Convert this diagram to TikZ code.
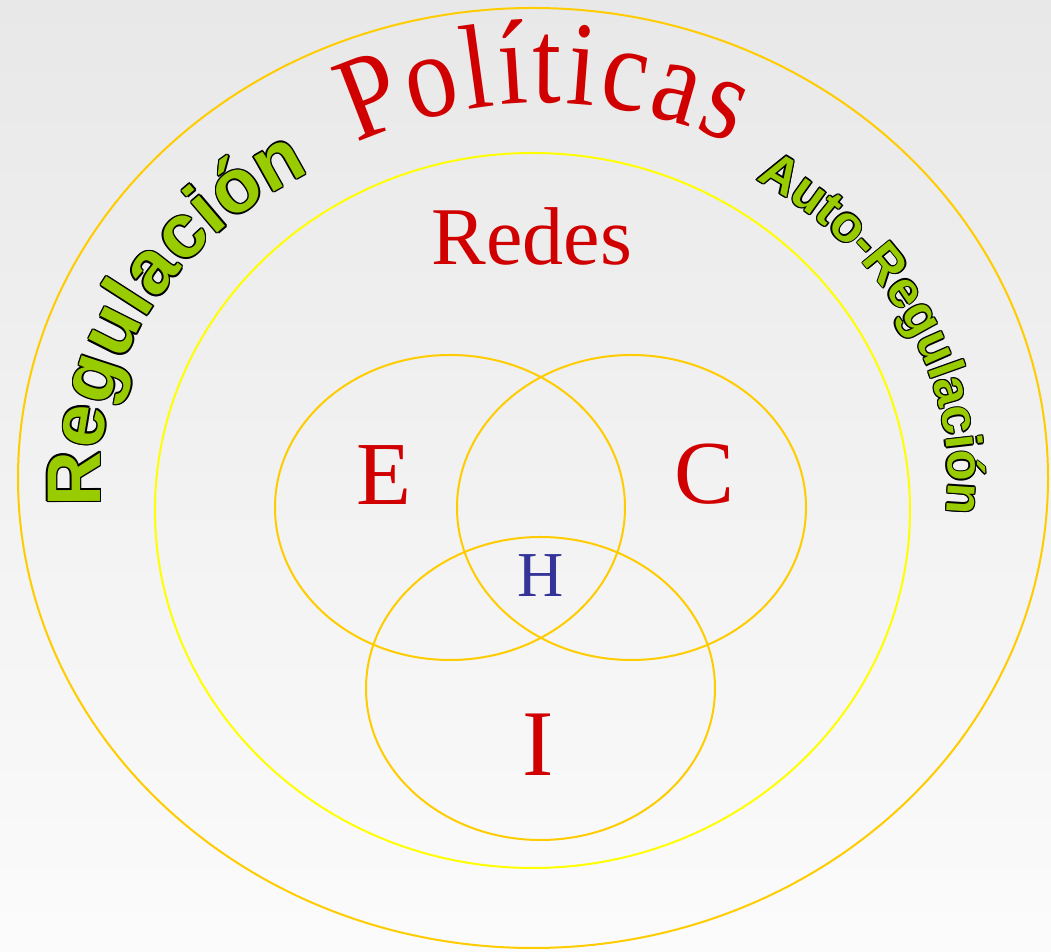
\documentclass[tikz,border=0pt]{standalone}
\usepackage{fontspec}
\setmainfont{Liberation Serif}
\setsansfont{Liberation Sans}
\newfontfamily\politfamily{Liberation Serif}[FakeStretch=0.86]
\usetikzlibrary{decorations.text}

\definecolor{ringgold}{RGB}{255,204,0}
\definecolor{ringyellow}{RGB}{255,255,0}
\definecolor{labelred}{RGB}{208,0,0}
\definecolor{labelblue}{RGB}{51,51,153}
\definecolor{labelgreen}{RGB}{153,204,0}

\newcommand\politfont{\politfamily\fontsize{60}{62}\selectfont\color{labelred}}
\newcommand\regbig{\sffamily\bfseries\fontsize{38}{40}\selectfont}
\newcommand\regsmall{\sffamily\bfseries\fontsize{25.5}{27}\selectfont}

\tikzset{
  ring/.style={line width=1pt},
  venn/.style={ring, draw=ringgold},
  letter/.style={text=labelred, inner sep=0pt, anchor=base}
}

\begin{document}
\begin{tikzpicture}[x=0.5pt,y=0.5pt]
    \shade[top color=gray!18, bottom color=gray!3] (0,0) rectangle (1051,952);
    \useasboundingbox (0,0) rectangle (1051,952);
    % rings
    \draw[ring, draw=ringgold] (533,474) ellipse [x radius=515, y radius=470];
    \draw[ring, draw=ringyellow] (532.5,441.5) ellipse [x radius=377.5, y radius=357.5];
    \draw[venn] (450,444.5) ellipse [x radius=175, y radius=152.5];
    \draw[venn] (631.5,444.5) ellipse [x radius=174.5, y radius=152.5];
    \draw[venn] (540.5,263.5) ellipse [x radius=174.5, y radius=151.5];
    % labels
    \node[letter, font=\fontsize{41}{43}\selectfont] (redes) at (532,687) {Redes};
    \node[letter, font=\fontsize{45}{47}\selectfont] (e) at (384,447) {E};
    \node[letter, font=\fontsize{45}{47}\selectfont] (c) at (705,448) {C};
    \node[letter, font=\fontsize{47}{49}\selectfont] (i) at (538,176) {I};
    \node[letter, text=labelblue, font=\fontsize{32}{34}\selectfont] (h) at (541,355) {H};
    % curved labels
    \path[decorate, decoration={text along path, text align=fit to path, text={|\politfont|Políticas}}]
        (544,474) ++(117:412 and 375) arc[start angle=117, end angle=63, x radius=412, y radius=375];
    % black copies round the green letters
    \foreach \a in {0,45,...,315} {
        \path[shift={(\a:0.75pt)}, decorate, decoration={text along path, text align=fit to path, text={|\regbig\color{black}|Regulación}}]
            (533,474) ++(184.5:433 and 357) arc[start angle=184.5, end angle=121, x radius=433, y radius=357];
        \path[shift={(\a:0.65pt)}, decorate, decoration={text along path, text align=fit to path, text={|\regsmall\color{black}|Auto-Regulación}}]
            (533,474) ++(57.5:415 and 354) arc[start angle=57.5, end angle=-5, x radius=415, y radius=354];
    }
    \path[decorate, decoration={text along path, text align=fit to path, text={|\regbig\color{labelgreen}|Regulación}}]
        (533,474) ++(184.5:433 and 357) arc[start angle=184.5, end angle=121, x radius=433, y radius=357];
    \path[decorate, decoration={text along path, text align=fit to path, text={|\regsmall\color{labelgreen}|Auto-Regulación}}]
        (533,474) ++(57.5:415 and 354) arc[start angle=57.5, end angle=-5, x radius=415, y radius=354];
\end{tikzpicture}
\end{document}
